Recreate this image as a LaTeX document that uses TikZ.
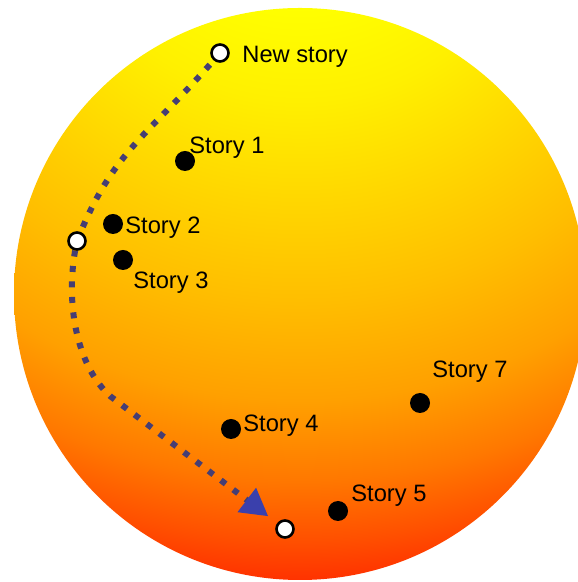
\documentclass[tikz,border=0pt]{standalone}
\usepackage{fontspec}
\setmainfont{Liberation Sans}
\usetikzlibrary{arrows.meta}
\definecolor{sy0}{RGB}{255,255,0}
\definecolor{sy1}{RGB}{255,240,0}
\definecolor{sy2}{RGB}{255,215,0}
\definecolor{sy3}{RGB}{255,190,0}
\definecolor{sy4}{RGB}{255,160,0}
\definecolor{sy5}{RGB}{255,120,0}
\definecolor{sy6}{RGB}{255,80,0}
\definecolor{sy7}{RGB}{255,50,0}
\definecolor{sy8}{RGB}{255,40,0}
\definecolor{trailc}{RGB}{70,62,115}
\definecolor{arrowblue}{RGB}{58,64,172}
\pgfdeclareradialshading{sunshade}{\pgfpoint{0bp}{0bp}}{color(0bp)=(sy0); color(5.25bp)=(sy0); color(8.35bp)=(sy1); color(11.65bp)=(sy2); color(15bp)=(sy3); color(18.35bp)=(sy4); color(21bp)=(sy5); color(23bp)=(sy6); color(24.35bp)=(sy7); color(25bp)=(sy8); color(50bp)=(sy8)}
\pgfdeclarelayer{bg}
\pgfdeclarelayer{trail}
\pgfsetlayers{bg,trail,main}
\begin{document}
\begin{tikzpicture}[x=0.5pt,y=0.5pt,
  dot/.style={circle,fill=black,inner sep=0pt,minimum size=10pt},
  hole/.style={circle,fill=white,draw=black,line width=1.3pt,inner sep=0pt,minimum size=8.5pt},
  lbl/.style={anchor=base west,inner sep=0pt,font=\fontsize{11.85}{14}\selectfont,text=black},
  trailline/.style={draw=trailc,line width=3pt,dash pattern=on 3pt off 4.75pt,line cap=butt}]
\useasboundingbox (0,0) rectangle (577,582);
\begin{pgfonlayer}{bg}
\fill[white] (0,0) rectangle (577,582);
\begin{scope}
\clip (300,288) circle[radius=286];
\shade[shading=sunshade] (300,732) circle[radius=750];
\end{scope}
\end{pgfonlayer}
% open circles
\node[hole] (ns) at (220,529) {};
\node[hole] (mid) at (77,341) {};
\node[hole] (endc) at (285,53) {};
% story dots
\node[dot] (d1) at (185,421) {};
\node[dot] (d2) at (113,358) {};
\node[dot] (d3) at (123,322) {};
\node[dot] (d7) at (420,179) {};
\node[dot] (d4) at (231,153) {};
\node[dot] (d5) at (338,71) {};
% labels
\node[lbl] (tns) at (242,519.5) {New story};
\node[lbl] (t1) at (189,428) {Story 1};
\node[lbl] (t2) at (125,348) {Story 2};
\node[lbl] (t3) at (133,293) {Story 3};
\node[lbl] (t7) at (432,204) {Story 7};
\node[lbl] (t4) at (243,150) {Story 4};
\node[lbl] (t5) at (351,80) {Story 5};
\coordinate (bend) at (110,186);
\begin{pgfonlayer}{trail}
\draw[trailline,-{Triangle[length=13.5pt,width=14.5pt,color=arrowblue]},shorten >=10.5pt]
  (ns.center) .. controls (148,445) and (114,434) .. (mid.center)
  .. controls (64,282) and (76,217) .. (bend) -- (endc.center);
\end{pgfonlayer}
\end{tikzpicture}
\end{document}
